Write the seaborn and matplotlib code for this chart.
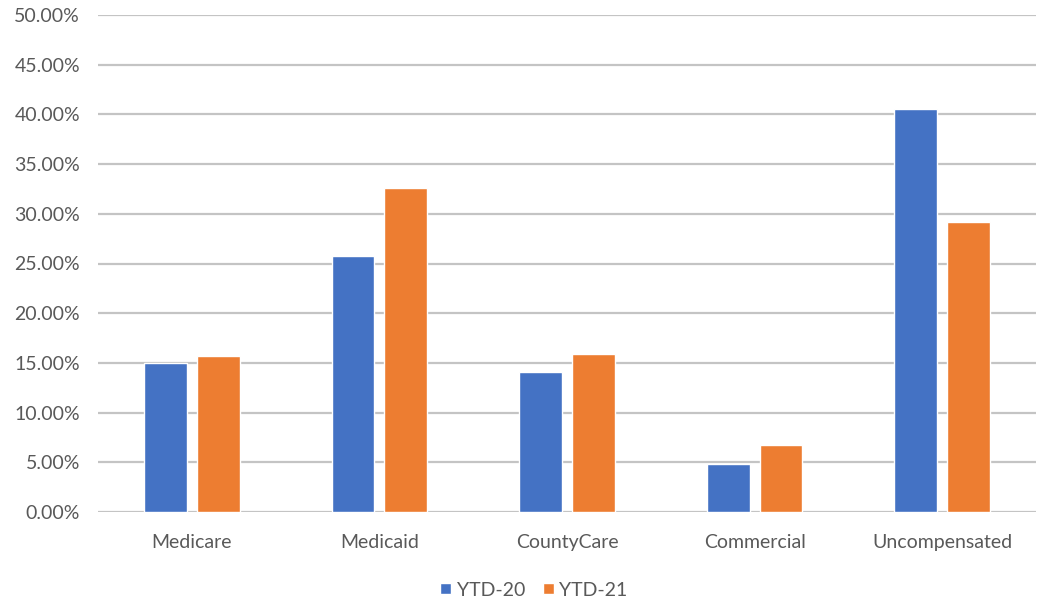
import matplotlib
matplotlib.use("Agg")
import matplotlib.pyplot as plt
import seaborn as sns
import pandas as pd
from matplotlib.ticker import PercentFormatter, MultipleLocator

categories = ["Medicare", "Medicaid", "CountyCare", "Commercial", "Uncompensated"]
series_names = ["YTD-20", "YTD-21"]
ytd20 = [15.0, 25.8, 14.1, 4.8, 40.5]
ytd21 = [15.7, 32.6, 15.9, 6.7, 29.2]
colors = ["#4472C4", "#ED7D31"]

df = pd.DataFrame({
    "Payer": categories * 2,
    "Series": [series_names[0]] * len(categories) + [series_names[1]] * len(categories),
    "Share": ytd20 + ytd21,
})

sns.set_theme(style="white")
plt.rcParams["font.family"] = ["Lato", "DejaVu Sans"]

fig = plt.figure(figsize=(10.38, 6.06), dpi=100)
ax = fig.add_axes([98 / 1038, 1 - 512 / 606, (1036 - 98) / 1038, (512 - 15) / 606])

sns.barplot(data=df, x="Payer", y="Share", hue="Series", palette=colors,
            width=0.564, gap=0.19, saturation=1, ax=ax, legend=True)

ax.set_ylim(0, 50)
ax.yaxis.set_major_locator(MultipleLocator(5))
ax.yaxis.set_major_formatter(PercentFormatter(decimals=2))
ax.grid(axis="y", color="#c4c4c4", linewidth=1.6)
ax.set_axisbelow(True)
for s in ax.spines.values():
    s.set_visible(False)
ax.tick_params(axis="both", length=0, labelsize=14, labelcolor="#595959")
ax.tick_params(axis="y", pad=13)
ax.tick_params(axis="x", pad=16)
ax.set_xlabel("")
ax.set_ylabel("")

handles, labels = ax.get_legend_handles_labels()
ax.get_legend().remove()
fig.legend(handles, labels, loc="center", bbox_to_anchor=(534 / 1038, 1 - 590 / 606),
           ncol=2, frameon=False, fontsize=14, labelcolor="#595959",
           handlelength=0.55, handleheight=0.55, handletextpad=0.3, columnspacing=0.9)

fig.savefig("out.png", dpi=100)
